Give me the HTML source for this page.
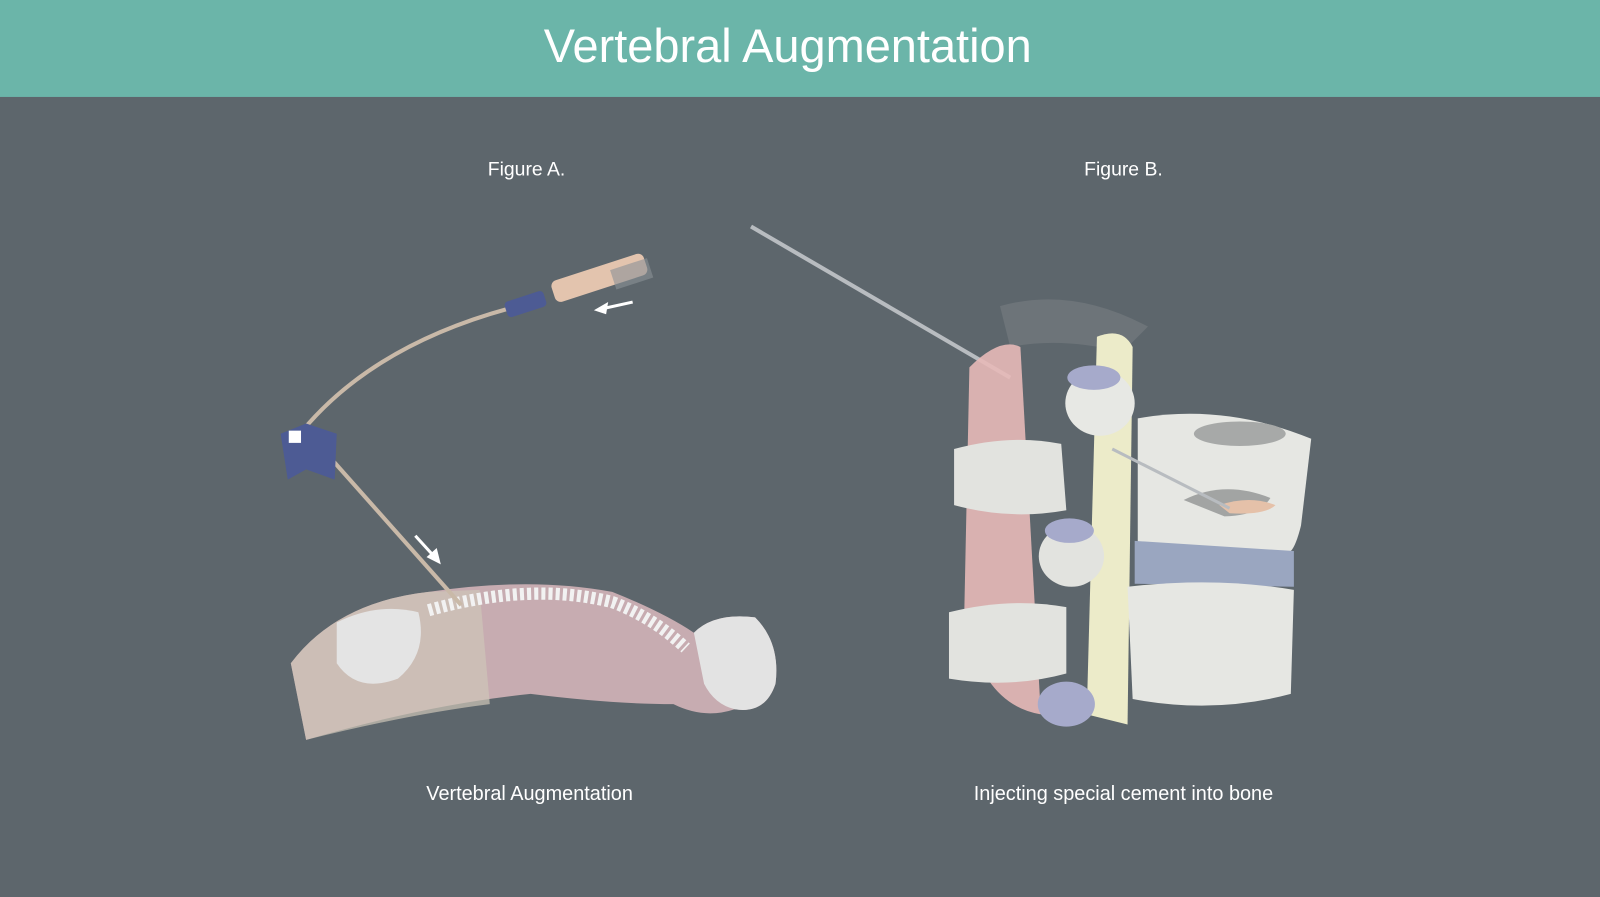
<!DOCTYPE html>
<html><head><meta charset="utf-8"><style>
html,body{margin:0;padding:0;background:#5d666c;width:1600px;height:897px;overflow:hidden}
svg{display:block}
text{font-family:"Liberation Sans",sans-serif;fill:#fff}
</style></head><body>
<svg width="1600" height="897" viewBox="0 0 1568 879" preserveAspectRatio="none">
<rect width="1568" height="879" fill="#5d666c"/>
<rect width="1568" height="95" fill="#6bb5a9"/>
<text x="772" y="61" font-size="46" text-anchor="middle">Vertebral Augmentation</text>
<text x="516" y="172" font-size="19" text-anchor="middle">Figure A.</text>
<text x="1101" y="172" font-size="19" text-anchor="middle">Figure B.</text>
<text x="519" y="784" font-size="19.5" text-anchor="middle">Vertebral Augmentation</text>
<text x="1101" y="784" font-size="19.5" text-anchor="middle">Injecting special cement into bone</text>

<!-- Figure A: body -->
<path d="M285,650 Q330,590 420,580 Q520,565 600,580 Q650,600 680,620 Q700,600 740,605 Q765,630 760,670 Q750,700 720,695 Q690,705 660,690 Q600,690 520,680 Q420,690 300,725 Z" fill="#d9b9bd" opacity="0.85"/>
<path d="M285,650 Q330,590 420,580 L470,578 L480,690 Q400,700 300,725 Z" fill="#cfc6b8" opacity="0.7"/>
<path d="M680,620 Q700,600 740,605 Q765,630 760,670 Q750,700 720,695 Q700,690 690,670 Z" fill="#e3e3e3"/>
<path d="M330,610 Q370,590 410,600 Q420,640 390,665 Q350,680 330,650 Z" fill="#e4e4e4"/>
<path d="M420,598 Q520,570 600,590 Q640,605 672,635" stroke="#f2f2f2" stroke-width="12" fill="none" stroke-dasharray="4 3"/>
<!-- tube & syringe -->
<path d="M290,430 Q360,340 500,302" stroke="#c9b9a8" stroke-width="4" fill="none"/>
<rect x="495" y="290" width="40" height="16" rx="4" fill="#4d5b94" transform="rotate(-18 515 298)"/>
<rect x="540" y="262" width="95" height="22" rx="6" fill="#e3c4ae" transform="rotate(-18 585 273)"/>
<rect x="600" y="258" width="38" height="20" fill="#8a9196" opacity="0.6" transform="rotate(-18 620 268)"/>
<path d="M620,296 L588,303" stroke="#fff" stroke-width="3"/><path d="M582,304 L596,296 L594,308 Z" fill="#fff"/>
<!-- handle & needle -->
<path d="M325,450 L452,593" stroke="#c9b9a8" stroke-width="4"/>
<path d="M275,425 L300,415 L330,425 L328,470 L300,460 L282,470 Z" fill="#4d5b94"/>
<rect x="283" y="422" width="12" height="12" fill="#fff"/>
<path d="M407,525 L428,548" stroke="#fff" stroke-width="3"/><path d="M432,553 L418,546 L428,537 Z" fill="#fff"/>

<!-- Figure B -->
<line x1="736" y1="222" x2="990" y2="370" stroke="#b8bcc0" stroke-width="4"/>
<path d="M980,300 Q1050,280 1125,320 L1100,345 Q1040,330 990,340 Z" fill="#6d7479"/>
<path d="M950,360 Q980,330 1000,340 L1020,700 Q960,690 945,600 Z" fill="#e7b9b8" opacity="0.9"/>
<path d="M1075,330 Q1100,320 1110,340 L1105,710 L1065,700 Z" fill="#ecebc9"/>
<path d="M935,440 Q990,425 1040,435 L1045,500 Q990,510 935,495 Z" fill="#e2e3df"/>
<path d="M930,600 Q990,585 1045,595 L1045,660 Q990,675 930,665 Z" fill="#e2e3df"/>
<ellipse cx="1078" cy="395" rx="34" ry="32" fill="#e7e8e4"/>
<ellipse cx="1050" cy="545" rx="32" ry="30" fill="#e2e3df"/>
<ellipse cx="1045" cy="690" rx="28" ry="22" fill="#a6aacb"/>
<ellipse cx="1048" cy="520" rx="24" ry="12" fill="#a6aacb"/>
<ellipse cx="1072" cy="370" rx="26" ry="12" fill="#a6aacb"/>
<path d="M1115,410 Q1200,395 1285,430 L1275,515 Q1270,535 1265,540 L1115,540 Z" fill="#e6e7e3"/>
<path d="M1112,530 L1268,540 L1268,575 L1112,572 Z" fill="#9aa6c0"/>
<path d="M1105,575 Q1190,565 1268,578 L1265,680 Q1190,700 1110,685 Z" fill="#e6e7e3"/>
<ellipse cx="1215" cy="425" rx="45" ry="12" fill="#a7a9a8"/>
<path d="M1160,490 Q1200,470 1245,488 Q1235,505 1200,506 Z" fill="#a2a4a3"/>
<path d="M1195,495 Q1225,485 1250,495 Q1240,505 1205,503 Z" fill="#e5c1a9"/>
<line x1="1090" y1="440" x2="1205" y2="498" stroke="#b8bcc0" stroke-width="3"/>
</svg>
</body></html>
